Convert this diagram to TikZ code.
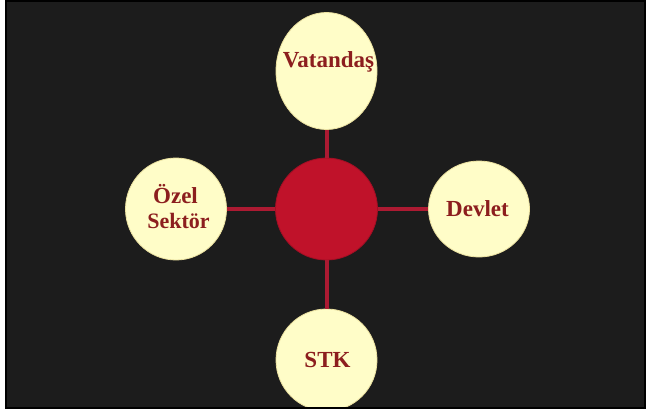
\documentclass[tikz,border=0pt]{standalone}
\usepackage{fontspec}
\setmainfont{Liberation Serif}
\usetikzlibrary{shapes.geometric}

\definecolor{panel}{RGB}{28,28,28}
\definecolor{cream}{RGB}{255,253,200}
\definecolor{creamedge}{RGB}{235,225,160}
\definecolor{hubred}{RGB}{192,18,42}
\definecolor{linkred}{RGB}{172,26,50}
\definecolor{labelred}{RGB}{140,30,30}

\tikzset{
  bubble/.style={ellipse, fill=cream, draw=creamedge, line width=0.8bp,
                 inner sep=0pt, minimum width=101bp, minimum height=102bp},
  hub/.style={ellipse, fill=hubred, draw=hubred!85!black, line width=0.8bp,
              inner sep=0pt, minimum width=102bp, minimum height=102bp},
  lbl/.style={anchor=base, inner sep=0pt, text=labelred,
              font=\bfseries\fontsize{23bp}{25bp}\selectfont},
  link/.style={draw=linkred, line width=4bp}
}

\begin{document}
\begin{tikzpicture}[x=1bp, y=-1bp]
  % page and dark panel
  \fill[white] (0,0) rectangle (646,412);
  \useasboundingbox (0,0) rectangle (646,412);
  \fill[panel] (6,1) rectangle (645,408);

  \begin{scope}
    \clip (6,1) rectangle (645,408);
    % central hub and the four partners
    \node[hub] (hub) at (326.5,209) {};
    \node[bubble, minimum height=117bp] (vat) at (326.5,71) {};
    \node[bubble] (ozel) at (176,209) {};
    \node[bubble, minimum height=96bp] (devlet) at (479,209) {};
    \node[bubble] (stk) at (326.5,360) {};

    % spokes
    \draw[link] (vat) -- (hub);
    \draw[link] (hub) -- (stk);
    \draw[link] (ozel) -- (hub);
    \draw[link] (hub) -- (devlet);

    % labels
    \node[lbl] (vattxt) at (328.5,67) {Vatandaş};
    \node[lbl] (ozeltxt) at (175.5,203) {Özel};
    \node[lbl, font=\bfseries\fontsize{22bp}{25bp}\selectfont] (sektortxt) at (178.5,228) {Sektör};
    \node[lbl] (devlettxt) at (477.5,216) {Devlet};
    \node[lbl] (stktxt) at (327.5,367) {STK};
  \end{scope}

  % panel frame
  \draw[black, line width=2bp] (6,1) rectangle (645,408);
\end{tikzpicture}
\end{document}
